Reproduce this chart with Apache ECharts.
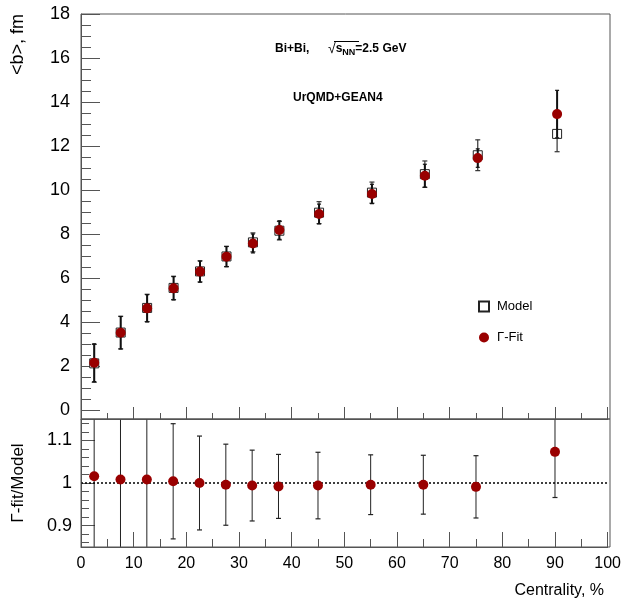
<!DOCTYPE html>
<html>
<head>
<meta charset="utf-8">
<script src="https://cdn.jsdelivr.net/npm/echarts@6/dist/echarts.min.js"></script>
<style>html,body{margin:0;padding:0;background:#fff}#c{width:624px;height:602px}</style>
</head>
<body>
<div id="c"></div>
<script>
// ---- data ----
const centrality = [2.5, 7.5, 12.5, 17.5, 22.5, 27.5, 32.5, 37.5, 45, 55, 65, 75, 90];
const modelB   = [2.12, 3.52, 4.64, 5.55, 6.30, 6.98, 7.62, 8.15, 8.97, 9.88, 10.72, 11.58, 12.55];
const modelErr = [0.86, 0.74, 0.62, 0.53, 0.48, 0.46, 0.43, 0.42, 0.50, 0.48, 0.60, 0.70, 0.81];
const fitB     = [2.15, 3.51, 4.62, 5.53, 6.29, 6.97, 7.57, 8.18, 8.91, 9.82, 10.65, 11.45, 13.45];
const fitErr   = [0.86, 0.74, 0.62, 0.53, 0.48, 0.46, 0.43, 0.42, 0.45, 0.44, 0.52, 0.42, 1.08];
const ratio    = [1.016, 1.008, 1.008, 1.004, 1.000, 0.996, 0.994, 0.992, 0.994, 0.996, 0.996, 0.991, 1.073];
const ratioErr = [0.40, 0.30, 0.22, 0.135, 0.11, 0.095, 0.083, 0.075, 0.078, 0.070, 0.069, 0.073, 0.107];
const ratioMajorTicks = [0.9, 1.0, 1.1];
const ratioMinorTicks = [0.86, 0.88, 0.92, 0.94, 0.96, 0.98, 1.02, 1.04, 1.06, 1.08, 1.12, 1.14];

// ---- layout ----
const L = 81, R = 610, T = 14, Y0 = 410, MID = 419, B = 547;
const FONT = 'Liberation Sans, Arial, Helvetica, sans-serif';
const AX = '#555';
const RED = '#990000';

function errBar(width, color, capHalf) {
  return function (params, api) {
    const x = api.value(0);
    const p1 = api.coord([x, api.value(1)]);
    const p2 = api.coord([x, api.value(2)]);
    const cs = params.coordSys;
    const top = cs.y, bot = cs.y + cs.height;
    const yLo = p1[1], yHi = p2[1];
    const children = [];
    const cLo = Math.min(Math.max(yLo, top), bot);
    const cHi = Math.min(Math.max(yHi, top), bot);
    children.push({type: 'line', shape: {x1: p1[0], y1: cLo, x2: p1[0], y2: cHi},
      style: {stroke: color, lineWidth: width}});
    if (yLo <= bot && yLo >= top) children.push({type: 'line', shape: {x1: p1[0] - capHalf, y1: yLo, x2: p1[0] + capHalf, y2: yLo}, style: {stroke: color, lineWidth: 1.2}});
    if (yHi <= bot && yHi >= top) children.push({type: 'line', shape: {x1: p1[0] - capHalf, y1: yHi, x2: p1[0] + capHalf, y2: yHi}, style: {stroke: color, lineWidth: 1.2}});
    return {type: 'group', children};
  };
}

const modelErrData = centrality.map((c, i) => [c, modelB[i] - modelErr[i], modelB[i] + modelErr[i]]);
const fitErrData = centrality.map((c, i) => [c, fitB[i] - fitErr[i], fitB[i] + fitErr[i]]);
const ratioErrData = centrality.map((c, i) => [c, ratio[i] - ratioErr[i], ratio[i] + ratioErr[i]]);

const chart = echarts.init(document.getElementById('c'), null, {renderer: 'canvas'});
chart.setOption({
  backgroundColor: '#fff',
  animation: false,
  textStyle: {fontFamily: FONT},
  grid: [
    {left: L, top: T, width: R - L, height: Y0 - T},
    {left: L, top: MID, width: R - L, height: B - MID}
  ],
  legend: {
    data: ['Model', 'Γ-Fit'],
    orient: 'vertical', left: 478, top: 300, itemWidth: 10, itemHeight: 10, itemGap: 18,
    padding: 0,
    textStyle: {fontSize: 13, color: '#000', fontFamily: FONT, padding: [0, 0, 0, 3]}
  },
  xAxis: [
    {gridIndex: 0, type: 'value', min: 0, max: 100, show: false},
    {gridIndex: 1, type: 'value', min: 0, max: 100, interval: 10, position: 'bottom',
      axisLine: {show: true, lineStyle: {color: AX, width: 1}},
      axisTick: {show: true, inside: true, length: 15, lineStyle: {color: AX}},
      minorTick: {show: true, splitNumber: 2, length: 8, lineStyle: {color: AX}},
      axisLabel: {fontSize: 16, color: '#000', margin: 9, fontFamily: FONT},
      splitLine: {show: false}},
    {gridIndex: 1, type: 'value', min: 0, max: 100, interval: 10, position: 'top',
      axisLine: {show: true, lineStyle: {color: AX, width: 1}},
      axisTick: {show: true, inside: false, length: 12, lineStyle: {color: AX}},
      minorTick: {show: true, splitNumber: 2, length: 6, lineStyle: {color: AX}},
      axisLabel: {show: false}, splitLine: {show: false}}
  ],
  yAxis: [
    {gridIndex: 0, type: 'value', min: 0, max: 18, interval: 2,
      axisLine: {show: true, lineStyle: {color: AX}},
      axisTick: {show: true, inside: true, length: 19, lineStyle: {color: AX}},
      minorTick: {show: true, splitNumber: 4, length: 10, lineStyle: {color: AX}},
      axisLabel: {fontSize: 18, color: '#000', margin: 11, fontFamily: FONT},
      splitLine: {show: false}},
    {gridIndex: 1, type: 'value', min: 0.85, max: 1.15,
      axisLine: {show: true, lineStyle: {color: AX}},
      axisTick: {show: true, inside: true, length: 14, customValues: ratioMajorTicks, lineStyle: {color: AX}},
      axisLabel: {fontSize: 18, color: '#000', margin: 9, fontFamily: FONT, customValues: ratioMajorTicks,
        formatter: v => String(Math.round(v * 10) / 10)},
      splitLine: {show: false}},
    {gridIndex: 1, type: 'value', min: 0.85, max: 1.15, position: 'left',
      axisLine: {show: false},
      axisTick: {show: true, inside: true, length: 8, customValues: ratioMinorTicks, lineStyle: {color: AX}},
      axisLabel: {show: false}, splitLine: {show: false}}
  ],
  series: [
    {type: 'custom', name: 'modelErr', xAxisIndex: 0, yAxisIndex: 0, z: 2,
      renderItem: errBar(1.2, '#333', 2.5), data: modelErrData},
    {type: 'scatter', name: 'Model', xAxisIndex: 0, yAxisIndex: 0, z: 3,
      symbol: 'rect', symbolSize: 9,
      itemStyle: {color: '#fff', borderColor: '#222', borderWidth: 1, opacity: 1},
      data: centrality.map((c, i) => [c, modelB[i]])},
    {type: 'custom', name: 'fitErr', xAxisIndex: 0, yAxisIndex: 0, z: 4,
      renderItem: errBar(2, '#111', 2), data: fitErrData},
    {type: 'scatter', name: 'Γ-Fit', xAxisIndex: 0, yAxisIndex: 0, z: 5,
      symbol: 'circle', symbolSize: 10, itemStyle: {color: RED, opacity: 1},
      data: centrality.map((c, i) => [c, fitB[i]])},
    {type: 'custom', name: 'ratioErr', xAxisIndex: 1, yAxisIndex: 1, z: 4,
      renderItem: errBar(1, '#222', 2.5), data: ratioErrData},
    {type: 'scatter', name: 'ratio', xAxisIndex: 1, yAxisIndex: 1, z: 5,
      symbol: 'circle', symbolSize: 10, itemStyle: {color: RED, opacity: 1},
      data: centrality.map((c, i) => [c, ratio[i]]),
      markLine: {silent: true, symbol: ['none', 'none'], label: {show: false},
        lineStyle: {type: [2, 2], color: '#000', width: 1.5}, data: [{yAxis: 1}]}}
  ],
  graphic: [
    {type: 'rect', shape: {x: L, y: T, width: R - L, height: MID - T}, style: {fill: 'none', stroke: AX, lineWidth: 1}, z: 10, silent: true},
    {type: 'rect', shape: {x: L, y: MID, width: R - L, height: B - MID}, style: {fill: 'none', stroke: AX, lineWidth: 1}, z: 10, silent: true},
    {type: 'text', x: 18, y: T, rotation: Math.PI / 2,
      style: {text: '<b>, fm', font: '18px ' + FONT, fill: '#000', align: 'right', verticalAlign: 'middle'}},
    {type: 'text', x: 18, y: (MID + B) / 2, rotation: Math.PI / 2,
      style: {text: 'Γ-fit/Model', font: '17px ' + FONT, fill: '#000', align: 'center', verticalAlign: 'middle'}},
    {type: 'text', x: 604, y: 591,
      style: {text: 'Centrality, %', font: '16px ' + FONT, fill: '#000', align: 'right', verticalAlign: 'middle'}},
    {type: 'text', x: 275, y: 49,
      style: {text: 'Bi+Bi,', font: 'bold 12px ' + FONT, fill: '#000', align: 'left', verticalAlign: 'middle'}},
    {type: 'text', x: 328, y: 49,
      style: {text: '{a|√}{b|s}{c|NN}{b|=2.5 GeV}', align: 'left', verticalAlign: 'middle',
        rich: {
          a: {fontSize: 14, fontFamily: FONT, fill: '#000', lineHeight: 16, verticalAlign: 'middle'},
          b: {fontSize: 12, fontWeight: 'bold', fontFamily: FONT, fill: '#000', lineHeight: 16, verticalAlign: 'middle'},
          c: {fontSize: 9, fontWeight: 'bold', fontFamily: FONT, fill: '#000', lineHeight: 16, verticalAlign: 'bottom'}
        }}},
    {type: 'line', shape: {x1: 334, y1: 41.5, x2: 359, y2: 41.5}, style: {stroke: '#000', lineWidth: 1}},
    {type: 'text', x: 293, y: 98,
      style: {text: 'UrQMD+GEAN4', font: 'bold 12px ' + FONT, fill: '#000', align: 'left', verticalAlign: 'middle'}}
  ]
});
</script>
</body>
</html>
